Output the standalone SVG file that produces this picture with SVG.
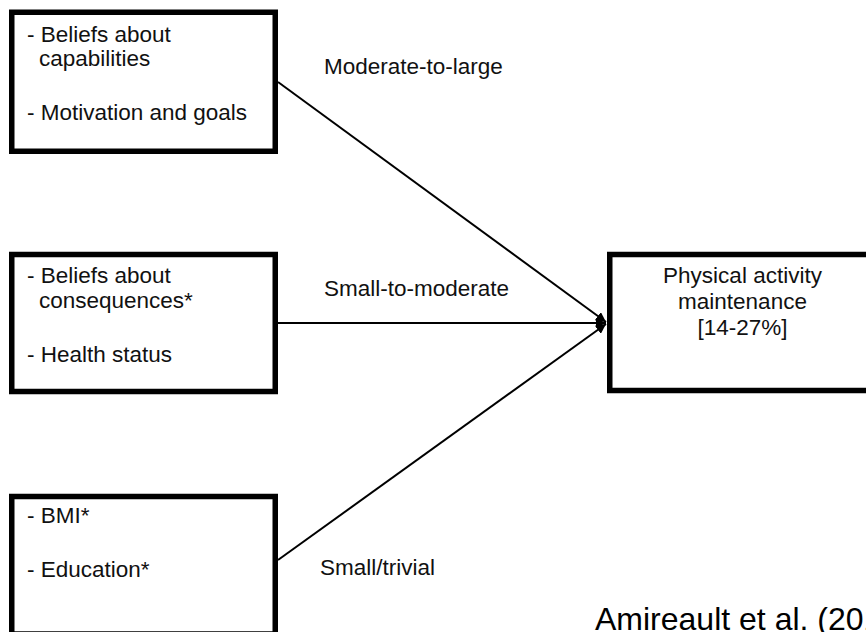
<svg xmlns="http://www.w3.org/2000/svg" width="866" height="632" viewBox="0 0 866 632">
<style>
.box{fill:#fff;stroke:#000;stroke-width:5.5}
.t{font-family:"Liberation Sans",Arial,Helvetica,sans-serif;font-size:22.5px;fill:#111}
.c{text-anchor:middle}
.conn{stroke:#000;stroke-width:2;fill:none}
.cite{font-family:"Liberation Sans",Arial,Helvetica,sans-serif;font-size:32px;fill:#000}
</style>
<defs>
<marker id="ah" viewBox="0 0 10 10" refX="10" refY="5" markerWidth="5" markerHeight="5" orient="auto" markerUnits="strokeWidth">
<path d="M0,0 L10,5 L0,10 z" fill="#000"/>
</marker>
</defs>
<rect width="866" height="632" fill="#fff"/>
<g id="connectors">
<line class="conn" x1="278" y1="82" x2="606" y2="322" marker-end="url(#ah)"/>
<line class="conn" x1="278" y1="323" x2="606" y2="323" marker-end="url(#ah)"/>
<line class="conn" x1="278" y1="560" x2="606" y2="324" marker-end="url(#ah)"/>
</g>
<g id="node-capabilities">
<rect class="box" x="11.75" y="12.25" width="263.5" height="139"/>
<text class="t" x="27" y="42">- Beliefs about</text>
<text class="t" x="39" y="66">capabilities</text>
<text class="t" x="27" y="120">- Motivation and goals</text>
</g>
<g id="node-consequences">
<rect class="box" x="11.75" y="254.5" width="263.5" height="137"/>
<text class="t" x="27" y="283">- Beliefs about</text>
<text class="t" x="39" y="308">consequences*</text>
<text class="t" x="27" y="362">- Health status</text>
</g>
<g id="node-bmi">
<rect class="box" x="11.75" y="496.5" width="263.5" height="137.5"/>
<text class="t" x="27" y="523">- BMI*</text>
<text class="t" x="27" y="577">- Education*</text>
</g>
<g id="node-maintenance">
<rect class="box" x="609.75" y="254.5" width="270" height="136"/>
<text class="t c" x="742.5" y="283">Physical activity</text>
<text class="t c" x="742.5" y="309">maintenance</text>
<text class="t c" x="742.5" y="335">[14-27%]</text>
</g>
<g id="labels">
<text class="t" x="324" y="74">Moderate-to-large</text>
<text class="t" x="324" y="296">Small-to-moderate</text>
<text class="t" x="320" y="575">Small/trivial</text>
</g>
<text class="cite" x="595" y="630">Amireault et al. (2013)</text>
</svg>
